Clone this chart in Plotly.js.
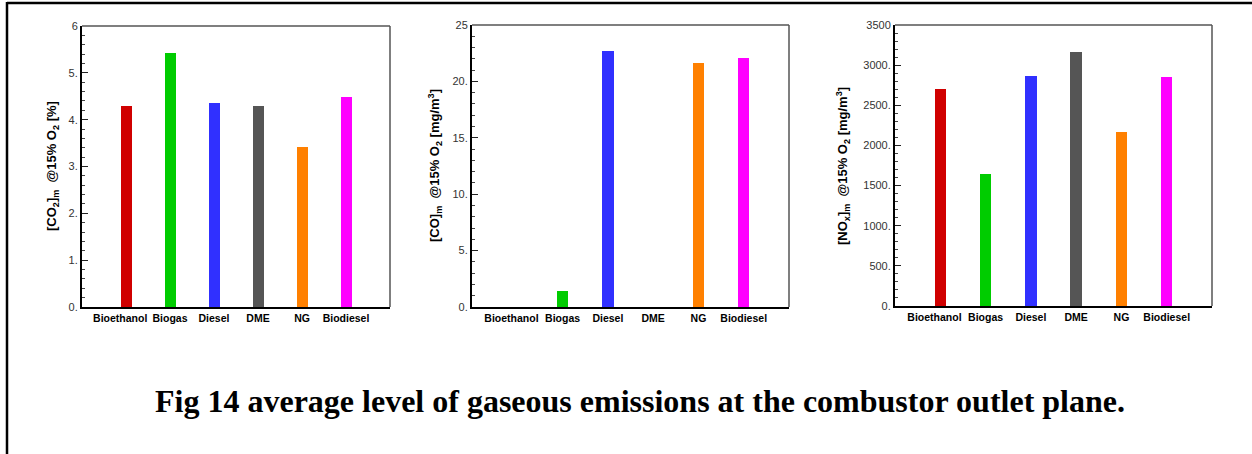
<!DOCTYPE html>
<html>
<head>
<meta charset="utf-8">
<script src="https://cdn.plot.ly/plotly-3.0.1.min.js"></script>
<style>
html,body{margin:0;padding:0;background:#fff;}
#chart{width:1252px;height:454px;}
</style>
</head>
<body>
<div id="chart"></div>
<script>
// Data
const fuels = ["Bioethanol", "Biogas", "Diesel", "DME", "NG", "Biodiesel"];
const fuelColors = ["#D00000", "#00CC00", "#3030FF", "#555555", "#FF8000", "#FF00FF"];
const co2Values = [4.29, 5.43, 4.36, 4.29, 3.42, 4.49];
const coValues = [0, 1.39, 22.69, 0, 21.62, 22.07];
const noxValues = [2709, 1644, 2862, 3161, 2163, 2850];

const co2TickVals = [0, 1, 2, 3, 4, 5, 6];
const co2TickText = ["0.", "1.", "2.", "3.", "4.", "5.", "6"];
const coTickVals = [0, 5, 10, 15, 20, 25];
const coTickText = ["0.", "5.", "10.", "15.", "20.", "25"];
const noxTickVals = [0, 500, 1000, 1500, 2000, 2500, 3000, 3500];
const noxTickText = ["0.", "500.", "1000.", "1500.", "2000.", "2500.", "3000.", "3500"];

const co2Title = "<b>[CO<sub>2</sub>]<sub>m</sub>  @15% O<sub>2</sub> [%]</b>";
const coTitle = "<b>[CO]<sub>m</sub>  @15% O<sub>2</sub> [mg/m<sup>3</sup>]</b>";
const noxTitle = "<b>[NO<sub>x</sub>]<sub>m</sub>  @15% O<sub>2</sub> [mg/m<sup>3</sup>]</b>";
const caption = "Fig 14 average level of gaseous emissions at the combustor outlet plane.";

const W = 1252, H = 454;
const px = v => v / W;
const py = v => (H - v) / H;

const xPos = fuels.map((f, i) => i + 1);
// the first label sits slightly left of its bar in the original, leaving a gap before "Biogas"
const catLabels = fuels.map((f, i) => "<b>" + f + "</b>" + (i === 0 ? "\u00a0\u00a0\u00a0\u00a0" : ""));

function barTrace(vals, xa, ya) {
  return {
    type: "bar",
    x: xPos,
    y: vals,
    width: 0.25,
    marker: {color: fuelColors, line: {width: 0}},
    xaxis: xa, yaxis: ya,
    hoverinfo: "skip",
    showlegend: false
  };
}

function xAxis(l, r, anchor) {
  return {
    domain: [px(l), px(r)],
    anchor: anchor,
    range: [0, 7],
    tickmode: "array",
    tickvals: xPos,
    ticktext: catLabels,
    tickangle: 0,
    ticks: "",
    tickfont: {family: "Liberation Sans, Arial", size: 10.5, color: "#000"},
    showline: true, linecolor: "#000", linewidth: 2,
    showgrid: false, zeroline: false, fixedrange: true
  };
}

function yAxis(top, bottom, anchor, max, tv, tt, minorStep) {
  return {
    domain: [py(bottom), py(top)],
    anchor: anchor,
    range: [0, max],
    tickmode: "array",
    tickvals: tv,
    ticktext: tt,
    ticks: "inside", ticklen: 6, tickwidth: 1, tickcolor: "#222",
    minor: {dtick: minorStep, tick0: 0, ticks: "inside", ticklen: 3, tickwidth: 1, tickcolor: "#444", showgrid: false},
    tickfont: {family: "Liberation Sans, Arial", size: 11, color: "#333"},
    showline: true, linecolor: "#000", linewidth: 2,
    showgrid: false, zeroline: false, fixedrange: true
  };
}

const data = [
  barTrace(co2Values, "x", "y"),
  barTrace(coValues, "x2", "y2"),
  barTrace(noxValues, "x3", "y3")
];

function frameShapes(xr, yr) {
  return [
    {type: "line", xref: xr + " domain", yref: yr + " domain", x0: 0, x1: 1, y0: 1, y1: 1, line: {color: "#555", width: 1.5}},
    {type: "line", xref: xr + " domain", yref: yr + " domain", x0: 1, x1: 1, y0: 0, y1: 1, line: {color: "#555", width: 1.5}}
  ];
}

const layout = {
  width: W, height: H,
  margin: {l: 0, r: 0, t: 0, b: 0},
  paper_bgcolor: "#fff", plot_bgcolor: "#fff",
  bargap: 0,
  xaxis: xAxis(82, 390, "y"),
  yaxis: yAxis(26, 307, "x", 6, co2TickVals, co2TickText, 0.2),
  xaxis2: xAxis(472, 789, "y2"),
  yaxis2: yAxis(25, 307, "x2", 25, coTickVals, coTickText, 1),
  xaxis3: xAxis(895, 1212, "y3"),
  yaxis3: yAxis(25, 306, "x3", 3500, noxTickVals, noxTickText, 100),
  shapes: [].concat(
    frameShapes("x", "y"), frameShapes("x2", "y2"), frameShapes("x3", "y3"),
    [
      {type: "line", xref: "paper", yref: "paper", x0: px(7), x1: 1, y0: py(3), y1: py(3), line: {color: "#000", width: 2.5}},
      {type: "line", xref: "paper", yref: "paper", x0: px(7), x1: px(7), y0: 0, y1: py(2), line: {color: "#000", width: 2.5}}
    ]
  ),
  annotations: [
    {text: co2Title, xref: "paper", yref: "paper", x: px(53), y: py(166), xanchor: "center", yanchor: "middle", textangle: -90, showarrow: false, font: {family: "Liberation Sans, Arial", size: 13, color: "#000"}},
    {text: coTitle, xref: "paper", yref: "paper", x: px(435), y: py(166), xanchor: "center", yanchor: "middle", textangle: -90, showarrow: false, font: {family: "Liberation Sans, Arial", size: 13, color: "#000"}},
    {text: noxTitle, xref: "paper", yref: "paper", x: px(843), y: py(166), xanchor: "center", yanchor: "middle", textangle: -90, showarrow: false, font: {family: "Liberation Sans, Arial", size: 13, color: "#000"}},
    {text: "<b>" + caption + "</b>", xref: "paper", yref: "paper", x: px(640), y: py(401), xanchor: "center", yanchor: "middle", showarrow: false, font: {family: "Liberation Serif, Times New Roman", size: 32, color: "#000"}}
  ]
};

Plotly.newPlot("chart", data, layout, {displayModeBar: false, staticPlot: true});
</script>
</body>
</html>
